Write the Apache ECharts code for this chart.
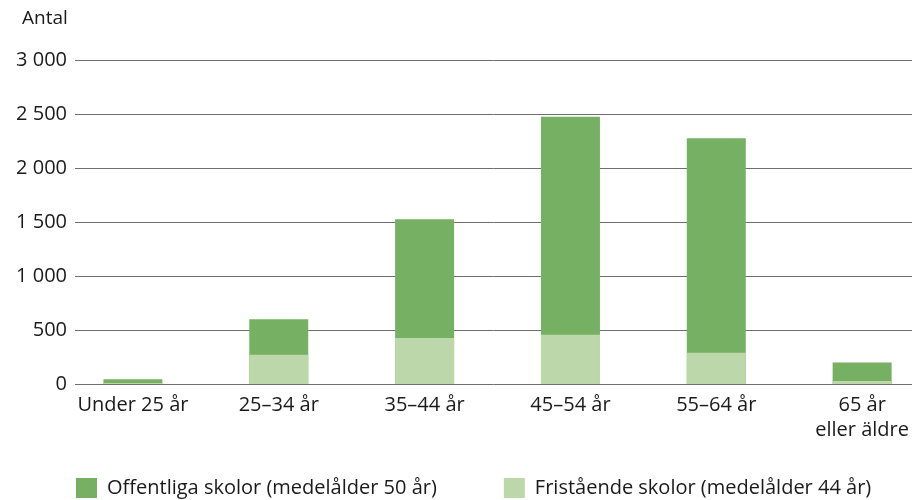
<!DOCTYPE html>
<html><head><meta charset="utf-8">
<script src="https://cdn.jsdelivr.net/npm/echarts@6/dist/echarts.min.js"></script>
<style>html,body{margin:0;padding:0;background:#fff}#c{width:912px;height:500px}</style>
</head><body><div id="c"></div>
<script>
const categories = ['Under 25 år', '25–34 år', '35–44 år', '45–54 år', '55–64 år', '65 år\neller äldre'];
const fristaende = [10, 270, 425, 455, 290, 28];
const offentliga = [35, 330, 1100, 2020, 1985, 170];
const seriesNames = ['Offentliga skolor (medelålder 50 år)', 'Fristående skolor (medelålder 44 år)'];
const yTicks = [0, 500, 1000, 1500, 2000, 2500, 3000];

const FONT = '"Open Sans", sans-serif';
const TXT = '#1a1a1a';
const chart = echarts.init(document.getElementById('c'), null, {renderer: 'canvas'});
const fmt = v => { const s = String(v); return s.length > 3 ? s.slice(0, s.length - 3) + ' ' + s.slice(-3) : s; };
const idx = categories.map((c, i) => i);
// stacked look: the dark (offentliga) segment sits on top of the light (fristående) one
const stackTop = idx.map(i => fristaende[i] + offentliga[i]);
chart.setOption({
  animation: false,
  backgroundColor: '#fff',
  textStyle: {fontFamily: FONT},
  graphic: [{type: 'text', left: 22, top: 9, style: {text: 'Antal', font: '19px ' + FONT, fill: TXT}}],
  grid: [
    {left: 75, right: 0, top: 60, bottom: 116},
    {left: 60, right: 0, top: 60, bottom: 116}
  ],
  xAxis: [
    {gridIndex: 0, type: 'value', show: false, min: 0, max: 1},
    {gridIndex: 1, type: 'value', min: -0.5, max: 5.304,
     axisLine: {show: false}, axisTick: {show: false}, splitLine: {show: false},
     axisLabel: {customValues: idx, formatter: v => categories[Math.round(v)] || '',
       color: TXT, fontSize: 20, fontFamily: FONT, margin: 9, lineHeight: 25}}
  ],
  yAxis: [
    {gridIndex: 0, type: 'value', min: 0, max: 3000, interval: 500,
     axisLine: {show: false}, axisTick: {show: false},
     axisLabel: {color: TXT, fontSize: 20, fontFamily: FONT, margin: 8, formatter: fmt},
     splitLine: {lineStyle: {color: '#6e6e6e', width: 1}}},
    {gridIndex: 1, type: 'value', min: 0, max: 3000, interval: 500, show: false, splitLine: {show: false}}
  ],
  legend: {
    data: seriesNames, left: 76, top: 478, itemWidth: 21, itemHeight: 20, itemGap: 67,
    icon: 'rect', padding: 0,
    textStyle: {color: TXT, fontSize: 20, fontFamily: FONT, padding: [0, 0, 0, 5]}
  },
  series: [
    {name: seriesNames[0], type: 'bar', xAxisIndex: 1, yAxisIndex: 1, barGap: '-100%',
     data: idx.map(i => [i, stackTop[i]]), barWidth: 59, itemStyle: {color: '#76B163'}},
    {name: seriesNames[1], type: 'bar', xAxisIndex: 1, yAxisIndex: 1, barGap: '-100%',
     data: idx.map(i => [i, fristaende[i]]), barWidth: 59, itemStyle: {color: '#BCD8AA'}}
  ]
});
</script></body></html>
